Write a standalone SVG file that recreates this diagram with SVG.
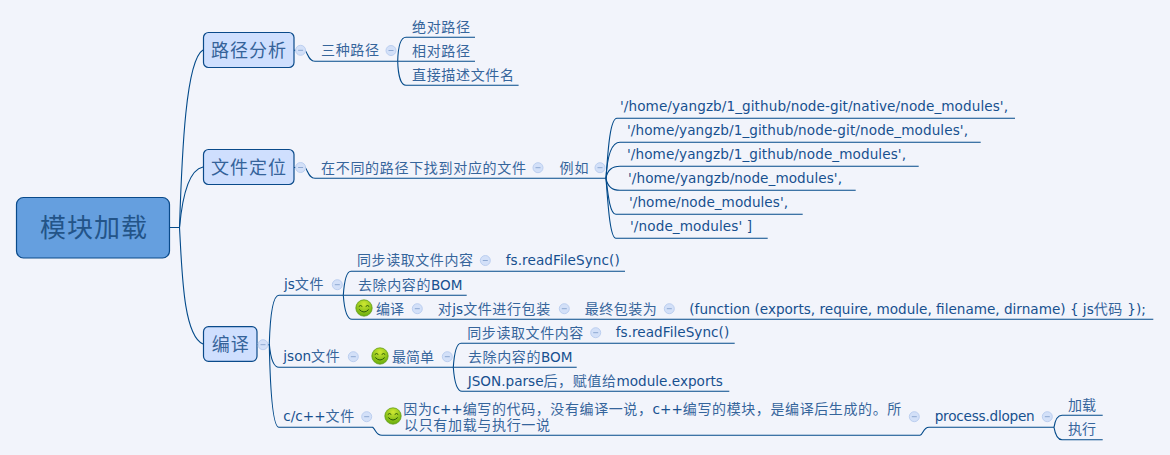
<svg xmlns="http://www.w3.org/2000/svg" xmlns:xlink="http://www.w3.org/1999/xlink" width="1170" height="455" viewBox="0 0 1170 455">
<style>
text{font-family:"DejaVu Sans","Noto Sans CJK SC",sans-serif;font-size:13.6px;fill:#17508f}
.cjk,tspan.z{font-family:"Noto Sans CJK SC",sans-serif;font-size:14px;fill:#36659b}
tspan.z{letter-spacing:.6px}
.main{font-family:"Noto Sans CJK SC",sans-serif;font-size:18px;fill:#35639a}
.rootT{font-family:"Noto Sans CJK SC",sans-serif;font-size:26px;fill:#235488}
.box{fill:#cfdffe;stroke:#0a4a8a;stroke-width:1.2}
.rootB{fill:#659fdf;stroke:#0a4a8a;stroke-width:1.2}
#connectors path{fill:none;stroke:#034a8a;stroke-width:1.1}
.c{fill:#d3e0f8;stroke:#bccff0;stroke-width:1}
.m{stroke:#8ea9d2;stroke-width:1}
</style>
<defs>
<radialGradient id="g" cx="0.5" cy="0.25" r="0.85"><stop offset="0" stop-color="#cfe832"/><stop offset="1" stop-color="#5aa508"/></radialGradient>
<g id="tog"><circle class="c" r="5"/><line class="m" x1="-2.5" x2="2.5"/></g>
<g id="smile"><circle r="8.2" fill="url(#g)" stroke="#5a9612" stroke-width="0.7"/><path d="M-5.2-1.5q1.8-2 3.5 0M1.7-1.5q1.8-2 3.5 0M-4.7 1.5q4.7 5 9.4 0" fill="none" stroke="#2c5a08" stroke-width="1"/></g>
</defs>
<rect width="1170" height="455" fill="#f2f4fb"/>
<g id="connectors">
<path d="M170 227.5H179.5C182 150 186 60 203 50"/>
<path d="M179.5 227.5C182 200 188 170 203 167"/>
<path d="M179.5 227.5C182 270 183 335 203 344"/>
<path d="M305 50C308 54 309 61.3 315 61.3H397.7"/>
<path d="M397.7 61.3C398 50 400 37.3 406 37.3H475"/>
<path d="M397.7 61.3H475"/>
<path d="M397.7 61.3C398 72 400 85.3 406 85.3H518.6"/>
<path d="M305 167C308 171 309 178.3 315 178.3H606"/>
<path d="M606 178.3C608 150 610 118.3 617 118.3H1015"/>
<path d="M606 178.3C607 160 610 142.3 620 142.3H980.7"/>
<path d="M606 178.3C607 172 610 166.3 620 166.3H918.7"/>
<path d="M606 178.3C607 184 610 190.3 620 190.3H855.7"/>
<path d="M606 178.3C608 195 610 214.3 616 214.3H802.7"/>
<path d="M606 178.3C608 205 610 238.3 616 238.3H767.7"/>
<path d="M269.3 344C270 320 272 295.3 279 295.3H343.3"/>
<path d="M269.3 344C270 352 272 367.3 279 367.3H453.3"/>
<path d="M269.3 344C270 380 272 427.3 279 427.3H372.7C376 430 376 435.3 382 435.3H920C923 435 923 427.3 929 427.3H1054"/>
<path d="M343.3 295.3C344 285 346 271.3 351 271.3H625"/>
<path d="M343.3 295.3H466.7"/>
<path d="M343.3 295.3C344 305 346 319.3 352 319.3H1153.3"/>
<path d="M453.3 367.3C454 357 456 343.3 461 343.3H734.7"/>
<path d="M453.3 367.3H576.7"/>
<path d="M453.3 367.3C454 377 456 391.3 462 391.3H729.3"/>
<path d="M1054 427.3C1055 421 1057 415.3 1062 415.3H1102.7"/>
<path d="M1054 427.3C1055 433 1057 439.7 1062 439.7H1102.7"/>
<path d="M269.3 344.7H257M305 50.3H294M305 167.5H294"/>
</g>
<g id="root"><rect class="rootB" x="16.5" y="197.5" width="153" height="60.5" rx="7"/><text class="rootT" x="40" y="237" textLength="107">模块加载</text></g>
<g id="t1"><rect class="box" x="203.5" y="32.5" width="90.5" height="35" rx="5"/><text class="main" x="211" y="56.5" textLength="75">路径分析</text><use xlink:href="#tog" x="300.6" y="50.3"/></g>
<g id="t2"><rect class="box" x="203.5" y="149.5" width="90.5" height="35" rx="5"/><text class="main" x="211" y="173.5" textLength="75">文件定位</text><use xlink:href="#tog" x="300.6" y="167.5"/></g>
<g id="t3"><rect class="box" x="203.5" y="326.7" width="53.5" height="34.6" rx="5"/><text class="main" x="211.7" y="350.5" textLength="37">编译</text><use xlink:href="#tog" x="263" y="344.7"/></g>
<g id="n1"><text class="cjk" x="321" y="55" textLength="58">三种路径</text><use xlink:href="#tog" x="391" y="50.5"/></g>
<g id="n2"><text class="cjk" x="412" y="32" textLength="58">绝对路径</text></g>
<g id="n3"><text class="cjk" x="412" y="55.5" textLength="58">相对路径</text></g>
<g id="n4"><text class="cjk" x="412" y="80" textLength="102">直接描述文件名</text></g>
<g id="n5"><text class="cjk" x="321" y="173" textLength="205">在不同的路径下找到对应的文件</text><use xlink:href="#tog" x="538" y="167.7"/></g>
<g id="n6"><text class="cjk" x="559.5" y="173" textLength="29">例如</text><use xlink:href="#tog" x="600" y="167.7"/></g>
<g id="p1"><text x="620" y="110.5" textLength="388">'/home/yangzb/1_github/node-git/native/node_modules',</text></g>
<g id="p2"><text x="627" y="134.5" textLength="341">'/home/yangzb/1_github/node-git/node_modules',</text></g>
<g id="p3"><text x="627" y="158.5" textLength="279">'/home/yangzb/1_github/node_modules',</text></g>
<g id="p4"><text x="628" y="182.5" textLength="214">'/home/yangzb/node_modules',</text></g>
<g id="p5"><text x="629" y="206.5" textLength="159">'/home/node_modules',</text></g>
<g id="p6"><text x="630" y="230.5" textLength="122">'/node_modules' ]</text></g>
<g id="j1"><text x="284" y="288.5">js<tspan class="z">文件</tspan></text><use xlink:href="#tog" x="337.3" y="284.7"/></g>
<g id="j2"><text class="cjk" x="357" y="265" textLength="116">同步读取文件内容</text><use xlink:href="#tog" x="485.3" y="260.5"/></g>
<g id="j3"><text x="505.7" y="264.5" textLength="114">fs.readFileSync()</text></g>
<g id="j4"><text x="358" y="289.5"><tspan class="z">去除内容的</tspan>BOM</text></g>
<g id="j5"><use xlink:href="#smile" x="364" y="308"/><text class="cjk" x="376" y="314" textLength="28">编译</text><use xlink:href="#tog" x="417.3" y="308.7"/></g>
<g id="j6"><text x="437.7" y="313.5"><tspan class="z">对</tspan>js<tspan class="z">文件进行包装</tspan></text><use xlink:href="#tog" x="564.3" y="308.7"/></g>
<g id="j7"><text class="cjk" x="584.7" y="314" textLength="72">最终包装为</text><use xlink:href="#tog" x="669.3" y="308.7"/></g>
<g id="j8"><text x="689.3" y="313.5">(function (exports, require, module, filename, dirname) { js<tspan class="z">代码</tspan> });</text></g>
<g id="s1"><text x="283.3" y="361">json<tspan class="z">文件</tspan></text><use xlink:href="#tog" x="353.3" y="356.7"/></g>
<g id="s2"><use xlink:href="#smile" x="380" y="356"/><text class="cjk" x="392" y="362" textLength="42">最简单</text><use xlink:href="#tog" x="447.3" y="356.7"/></g>
<g id="s3"><text class="cjk" x="467.3" y="338" textLength="116">同步读取文件内容</text><use xlink:href="#tog" x="595.7" y="332.7"/></g>
<g id="s4"><text x="615.7" y="337" textLength="113.5">fs.readFileSync()</text></g>
<g id="s5"><text x="468" y="361.5"><tspan class="z">去除内容的</tspan>BOM</text></g>
<g id="s6"><text x="467.7" y="385.5">JSON.parse<tspan class="z">后，赋值给</tspan>module.exports</text></g>
<g id="c1"><text x="283.3" y="421">c/c++<tspan class="z">文件</tspan></text><use xlink:href="#tog" x="366.7" y="416.7"/></g>
<g id="c2"><use xlink:href="#smile" x="393" y="416"/><text x="403.3" y="414"><tspan class="z">因为</tspan>c++<tspan class="z">编写的代码，没有编译一说，</tspan>c++<tspan class="z">编写的模块，是编译后生成的。所</tspan></text><text class="cjk" x="404" y="429.5" textLength="146">以只有加载与执行一说</text><use xlink:href="#tog" x="914.3" y="416.7"/></g>
<g id="c3"><text x="934.7" y="420.5" textLength="100">process.dlopen</text><use xlink:href="#tog" x="1047.3" y="416.7"/></g>
<g id="c4"><text class="cjk" x="1068" y="410" textLength="28">加载</text></g>
<g id="c5"><text class="cjk" x="1068" y="434" textLength="28">执行</text></g>
</svg>
